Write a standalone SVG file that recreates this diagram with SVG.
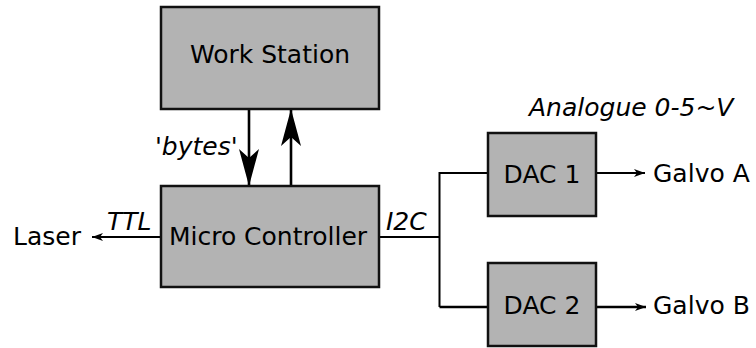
<svg xmlns="http://www.w3.org/2000/svg" width="756" height="348" viewBox="0 0 756 348">
<style>
.box{fill:#b3b3b3;stroke:#111;stroke-width:2.5}
.t{font-family:"DejaVu Sans",Verdana,sans-serif;font-size:25px;fill:#000}
.i{font-style:italic}
.c{text-anchor:middle}
.ln{fill:none;stroke:#000;stroke-width:2}
.thick{stroke-width:2.6}
</style>
<defs>
<marker id="big" markerUnits="userSpaceOnUse" markerWidth="40" markerHeight="24" refX="0" refY="0" viewBox="-38 -12 40 24" orient="auto" overflow="visible">
<path d="M0,0 L-37,-10 L-28,0 L-37,10 Z" fill="#000"/>
</marker>
<marker id="small" markerUnits="userSpaceOnUse" markerWidth="14" markerHeight="10" refX="0" refY="0" viewBox="-13 -5 14 10" orient="auto" overflow="visible">
<path d="M0,0 L-11,-4 L-8,0 L-11,4 Z" fill="#000"/>
</marker>
</defs>
<g id="connectors">
<line class="ln thick" x1="249" y1="109" x2="249" y2="186" marker-end="url(#big)"/>
<line class="ln thick" x1="291" y1="186" x2="291" y2="109" marker-end="url(#big)"/>
<line class="ln" x1="161" y1="237" x2="92" y2="237" marker-end="url(#small)"/>
<polyline class="ln" points="379,237 439.5,237"/>
<polyline class="ln" points="488,173 439.5,173 439.5,307"/>
<polyline class="ln thick" points="439.5,307 488,307"/>
<line class="ln" x1="596" y1="173" x2="645" y2="173" marker-end="url(#small)"/>
<line class="ln thick" x1="596" y1="307" x2="646" y2="307" marker-end="url(#small)"/>
</g>
<g id="workstation">
<rect class="box" x="161" y="7" width="218" height="102"/>
<text class="t c" x="270" y="63">Work Station</text>
</g>
<g id="microcontroller">
<rect class="box" x="161" y="186" width="218" height="101"/>
<text class="t c" x="268" y="245">Micro Controller</text>
</g>
<g id="dac1">
<rect class="box" x="488" y="133" width="108" height="83"/>
<text class="t c" x="542" y="183">DAC 1</text>
</g>
<g id="dac2">
<rect class="box" x="488" y="263" width="108" height="83"/>
<text class="t c" x="542" y="314">DAC 2</text>
</g>
<g id="laser"><text class="t" x="13" y="245">Laser</text></g>
<g id="galvoA"><text class="t" x="653" y="182">Galvo A</text></g>
<g id="galvoB"><text class="t" x="653" y="314">Galvo B</text></g>
<g id="labels">
<text class="t i" x="155" y="155">'bytes'</text>
<text class="t i" x="107" y="230">TTL</text>
<text class="t i" x="386" y="230">I2C</text>
<text class="t i" x="529" y="116">Analogue 0-5~V</text>
</g>
</svg>
